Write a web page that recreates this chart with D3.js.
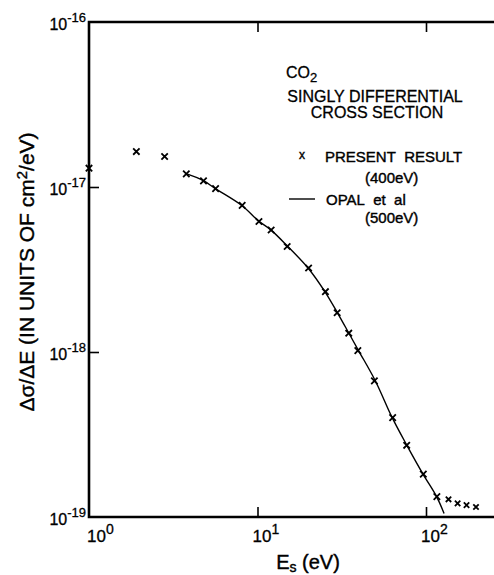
<!DOCTYPE html>
<html>
<head>
  <meta charset="utf-8">
  <title>CO2 singly differential cross section</title>
  <style>
    body { margin: 0; background: #fff; }
    svg { font-family: "Liberation Sans", Arial, sans-serif; }
  </style>
</head>
<body>
<script src="https://d3js.org/d3.v7.min.js"></script>
<script>
  var width = 494;
  var height = 575;

  // present result (400 eV), crosses
  var presentE = [1.0, 1.91, 2.81, 3.78, 4.78, 5.64, 8.11, 10.2, 12.05, 15.0, 20.1, 25.3, 29.7, 34.8, 39.4, 49.4, 63.4, 76.8, 96.4, 116];
  var presentY = [1.30e-17, 1.64e-17, 1.53e-17, 1.20e-17, 1.09e-17, 9.77e-18, 7.74e-18, 6.18e-18, 5.49e-18, 4.36e-18, 3.23e-18, 2.32e-18, 1.73e-18, 1.30e-18, 1.02e-18, 6.68e-19, 4.00e-19, 2.72e-19, 1.82e-19, 1.33e-19];
  // the small crosses past 10^2
  var tailE = [136, 154, 174, 198];
  var tailY = [1.28e-19, 1.21e-19, 1.18e-19, 1.15e-19];

  // Opal et al (500 eV), solid line
  var opalE = [3.8, 4.8, 5.6, 8.1, 10.2, 12, 15, 20, 25, 30, 35, 40, 50, 63, 77, 96, 116, 128];
  var opalY = [1.20e-17, 1.09e-17, 9.8e-18, 7.7e-18, 6.2e-18, 5.5e-18, 4.4e-18, 3.22e-18, 2.34e-18, 1.71e-18, 1.29e-18, 1.01e-18, 6.7e-19, 4.0e-19, 2.72e-19, 1.82e-19, 1.32e-19, 1.05e-19];

  var xTicks = [1, 10, 100];
  var xTickExp = ['0', '1', '2'];
  var yTicks = [1e-16, 1e-17, 1e-18, 1e-19];
  var yTickExp = ['\u201116', '\u201117', '\u201118', '\u201119'];

  var svg = d3.select('body')
    .append('svg')
      .attr('width', width)
      .attr('height', height);

  var x = d3.scaleLog().domain([1, 100]).range([89, 426]);
  var y = d3.scaleLog().domain([1e-19, 1e-16]).range([517, 22]);

  // inward ticks
  svg.append('g')
    .attr('transform', 'translate(0,' + y(1e-19) + ')')
    .call(d3.axisBottom(x).tickValues([10, 100]).tickSize(-10).tickFormat(''))
    .call(function(g) { g.select('.domain').remove(); })
    .selectAll('line').attr('stroke-width', 1.6);

  svg.append('g')
    .attr('transform', 'translate(0,' + y(1e-16) + ')')
    .call(d3.axisTop(x).tickValues([10, 100]).tickSize(-10).tickFormat(''))
    .call(function(g) { g.select('.domain').remove(); })
    .selectAll('line').attr('stroke-width', 1.6);

  svg.append('g')
    .attr('transform', 'translate(' + x(1) + ',0)')
    .call(d3.axisLeft(y).tickValues([1e-17, 1e-18]).tickSize(-10).tickFormat(''))
    .call(function(g) { g.select('.domain').remove(); })
    .selectAll('line').attr('stroke-width', 1.6);

  // frame (right side runs off the picture)
  svg.append('path')
    .attr('d', 'M' + width + ',' + y(1e-16) + 'H' + x(1) + 'V' + y(1e-19) + 'H' + width)
    .attr('fill', 'none')
    .attr('stroke', '#000')
    .attr('stroke-width', 2.6);

  // y tick labels
  var yl = svg.append('g')
    .attr('stroke', '#000').attr('stroke-width', 0.3)
    .selectAll('text')
    .data(yTicks)
    .enter().append('text')
      .attr('x', x(1) - 3)
      .attr('y', function(d) { return y(d) + 8; })
      .attr('text-anchor', 'end')
      .attr('font-size', 16);
  yl.append('tspan').text('10');
  yl.append('tspan')
    .attr('dy', -8)
    .attr('font-size', 13)
    .text(function(d, i) { return yTickExp[i]; });

  // x tick labels
  var xl = svg.append('g')
    .attr('stroke', '#000').attr('stroke-width', 0.3)
    .selectAll('text')
    .data(xTicks)
    .enter().append('text')
      .attr('x', function(d) { return x(d) - (d === 1 ? 2 : 5); })
      .attr('y', y(1e-19) + 25)
      .attr('font-size', 17);
  xl.append('tspan').text('10');
  xl.append('tspan')
    .attr('dy', -8)
    .attr('font-size', 14)
    .text(function(d, i) { return xTickExp[i]; });

  // axis titles
  var xt = svg.append('text')
    .attr('x', 308)
    .attr('y', 569)
    .attr('text-anchor', 'middle')
    .attr('font-size', 20)
    .attr('stroke', '#000').attr('stroke-width', 0.4);
  xt.append('tspan').text('E');
  xt.append('tspan').attr('dy', 3).attr('font-size', 14).text('s');
  xt.append('tspan').attr('dy', -3).text(' (eV)');

  var yt = svg.append('text')
    .attr('transform', 'translate(34,272) rotate(-90)')
    .attr('text-anchor', 'middle')
    .attr('font-size', 21)
    .attr('stroke', '#000').attr('stroke-width', 0.4);
  yt.append('tspan').text('\u0394\u03c3/\u0394E (IN UNITS OF cm');
  yt.append('tspan').attr('dy', -7).attr('font-size', 15).text('2');
  yt.append('tspan').attr('dy', 7).text('/eV)');

  // Opal et al curve
  var line = d3.line()
    .x(function(d) { return x(d[0]); })
    .y(function(d) { return y(d[1]); })
    .curve(d3.curveCatmullRom);

  svg.append('path')
    .datum(d3.zip(opalE, opalY))
    .attr('d', line)
    .attr('fill', 'none')
    .attr('stroke', '#000')
    .attr('stroke-width', 1.4);

  function cross(sel, r) {
    sel.append('path')
      .attr('d', function(d) {
        var cx = x(d[0]), cy = y(d[1]);
        return 'M' + (cx - r) + ',' + (cy - r) + 'L' + (cx + r) + ',' + (cy + r) +
               'M' + (cx - r) + ',' + (cy + r) + 'L' + (cx + r) + ',' + (cy - r);
      })
      .attr('stroke', '#000')
      .attr('stroke-width', 1.8)
      .attr('fill', 'none');
  }

  svg.append('g').selectAll('g')
    .data(d3.zip(presentE, presentY))
    .enter().append('g')
    .call(cross, 3.2);

  svg.append('g').selectAll('g')
    .data(d3.zip(tailE, tailY))
    .enter().append('g')
    .call(cross, 2.7);

  // annotation and legend
  var note = svg.append('g')
    .attr('font-size', 16)
    .attr('stroke', '#000')
    .attr('stroke-width', 0.3);

  var co2 = note.append('text')
    .attr('x', 286).attr('y', 78);
  co2.append('tspan').text('CO');
  co2.append('tspan').attr('dy', 4).attr('font-size', 13).text('2');

  note.append('text')
    .attr('x', 375).attr('y', 102)
    .attr('text-anchor', 'middle')
    .text('SINGLY DIFFERENTIAL');
  note.append('text')
    .attr('x', 377).attr('y', 118)
    .attr('text-anchor', 'middle')
    .text('CROSS SECTION');

  var legend = svg.append('g')
    .attr('font-size', 15)
    .attr('stroke', '#000')
    .attr('stroke-width', 0.4);

  legend.append('text')
    .attr('x', 302).attr('y', 159)
    .attr('text-anchor', 'middle')
    .attr('font-size', 12)
    .text('x');
  legend.append('text')
    .attr('x', 325).attr('y', 162)
    .text('PRESENT\u00a0\u00a0RESULT');
  legend.append('text')
    .attr('x', 365).attr('y', 183)
    .text('(400eV)');

  legend.append('line')
    .attr('x1', 289).attr('x2', 315)
    .attr('y1', 199).attr('y2', 199)
    .attr('stroke-width', 1.4);
  legend.append('text')
    .attr('x', 326).attr('y', 205)
    .text('OPAL\u00a0 et\u00a0 al');
  legend.append('text')
    .attr('x', 365).attr('y', 223)
    .text('(500eV)');
</script>
</body>
</html>
